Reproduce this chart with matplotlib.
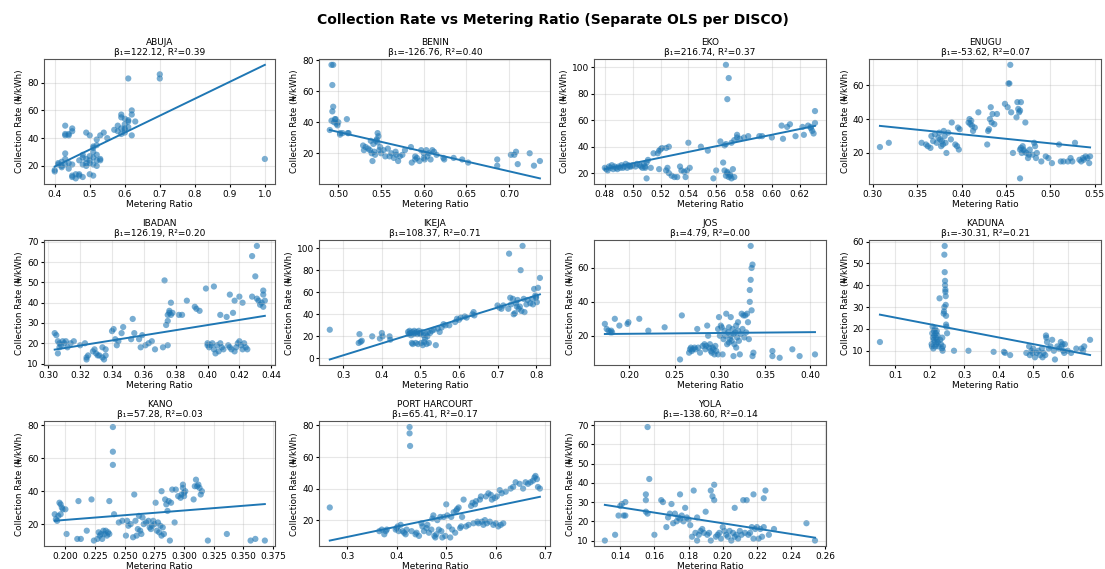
import numpy as np
import matplotlib
matplotlib.use("Agg")
import matplotlib.pyplot as plt

# (metering ratio, collection rate) per DISCO
abuja = [(0.40, 17), (0.40, 16), (0.41, 21), (0.41, 22), (0.42, 20), (0.42, 23), (0.43, 25), (0.43, 29),
         (0.43, 49), (0.43, 42), (0.44, 43), (0.43, 43), (0.44, 42), (0.45, 47), (0.45, 45), (0.44, 22),
         (0.45, 21), (0.45, 12), (0.45, 13), (0.46, 11), (0.46, 14), (0.47, 14), (0.47, 13), (0.48, 12),
         (0.48, 21), (0.47, 24), (0.48, 26), (0.48, 28), (0.49, 44), (0.50, 42), (0.49, 25), (0.49, 22),
         (0.49, 20), (0.50, 27), (0.50, 14), (0.51, 13), (0.50, 22), (0.51, 30), (0.51, 33), (0.51, 34),
         (0.52, 35), (0.52, 28), (0.52, 24), (0.52, 20), (0.52, 39), (0.53, 42), (0.53, 25), (0.53, 24),
         (0.54, 44), (0.55, 40), (0.51, 26), (0.50, 24), (0.51, 21), (0.58, 49), (0.58, 45), (0.59, 57),
         (0.59, 55), (0.59, 47), (0.60, 50), (0.60, 54), (0.60, 46), (0.60, 44), (0.61, 52), (0.61, 53),
         (0.61, 48), (0.62, 60), (0.62, 57), (0.61, 83), (0.62, 42), (0.63, 52), (0.70, 83), (0.70, 86),
         (1.00, 25), (0.59, 43), (0.60, 47), (0.57, 46), (0.44, 18), (0.43, 21), (0.42, 19)]

benin = [(0.492, 77), (0.494, 77), (0.493, 64), (0.494, 50), (0.493, 47), (0.490, 35), (0.492, 41),
         (0.495, 40), (0.496, 42), (0.497, 42), (0.498, 39), (0.500, 40), (0.499, 38), (0.502, 33),
         (0.502, 32), (0.505, 33), (0.510, 42), (0.511, 33), (0.512, 33), (0.529, 25), (0.530, 22),
         (0.532, 24), (0.535, 23), (0.537, 22), (0.538, 28), (0.539, 20), (0.540, 15), (0.541, 26),
         (0.542, 21), (0.543, 19), (0.544, 28), (0.545, 29), (0.546, 33), (0.547, 31), (0.546, 27),
         (0.548, 22), (0.549, 24), (0.550, 20), (0.553, 22), (0.555, 18), (0.558, 23), (0.560, 18),
         (0.562, 20), (0.565, 17), (0.567, 21), (0.568, 19), (0.570, 15), (0.572, 18), (0.575, 19),
         (0.578, 22), (0.585, 24), (0.586, 14), (0.590, 18), (0.592, 17), (0.595, 15), (0.597, 22),
         (0.600, 20), (0.601, 16), (0.603, 22), (0.604, 18), (0.606, 20), (0.608, 16), (0.610, 22),
         (0.612, 21), (0.615, 19), (0.623, 17), (0.624, 16), (0.635, 17), (0.645, 16), (0.652, 14),
         (0.686, 16), (0.686, 12), (0.702, 19), (0.706, 19), (0.708, 21), (0.710, 13), (0.724, 20),
         (0.729, 12), (0.736, 15), (0.600, 17), (0.590, 16)]

eko = [(0.480, 24), (0.481, 23), (0.482, 22), (0.483, 25), (0.484, 24), (0.485, 26), (0.486, 23),
       (0.487, 25), (0.488, 24), (0.489, 23), (0.490, 25), (0.491, 24), (0.492, 26), (0.493, 24),
       (0.494, 25), (0.495, 27), (0.496, 24), (0.497, 26), (0.498, 25), (0.499, 25), (0.500, 26),
       (0.502, 25), (0.503, 27), (0.505, 26), (0.506, 25), (0.507, 24), (0.508, 27), (0.509, 25),
       (0.510, 28), (0.511, 30), (0.510, 16), (0.509, 24), (0.513, 24), (0.515, 35), (0.518, 35),
       (0.519, 37), (0.520, 38), (0.521, 39), (0.519, 23), (0.524, 39), (0.526, 40), (0.524, 22),
       (0.525, 24), (0.526, 20), (0.528, 18), (0.530, 17), (0.532, 17), (0.534, 25), (0.535, 22),
       (0.537, 21), (0.538, 17), (0.540, 43), (0.541, 24), (0.539, 22), (0.549, 40), (0.554, 37),
       (0.558, 16), (0.560, 22), (0.563, 44), (0.565, 28), (0.566, 41), (0.567, 42), (0.566, 22),
       (0.567, 102), (0.569, 92), (0.568, 76), (0.567, 18), (0.568, 20), (0.569, 17), (0.570, 19),
       (0.571, 16), (0.572, 23), (0.573, 17), (0.571, 43), (0.573, 45), (0.575, 49), (0.575, 47),
       (0.577, 46), (0.580, 47), (0.583, 48), (0.591, 48), (0.593, 48), (0.600, 47), (0.607, 56),
       (0.608, 46), (0.611, 55), (0.613, 57), (0.617, 48), (0.622, 55), (0.623, 49), (0.626, 56),
       (0.628, 54), (0.629, 52), (0.630, 50), (0.631, 58), (0.631, 67), (0.628, 55), (0.568, 21),
       (0.570, 18)]

enugu = [(0.308, 23.5), (0.318, 26), (0.355, 26), (0.360, 25), (0.362, 24), (0.365, 23), (0.366, 30),
         (0.368, 27), (0.370, 31), (0.372, 26), (0.374, 29), (0.375, 32), (0.376, 28), (0.377, 24),
         (0.378, 27), (0.379, 25), (0.380, 33), (0.381, 30), (0.382, 26), (0.383, 20), (0.385, 32),
         (0.388, 28), (0.389, 38), (0.393, 25), (0.395, 24), (0.396, 35), (0.397, 22), (0.398, 34),
         (0.408, 38), (0.409, 40), (0.410, 37), (0.411, 39), (0.412, 36), (0.413, 33), (0.415, 35),
         (0.419, 44), (0.429, 25), (0.430, 33), (0.431, 34), (0.432, 40), (0.433, 47), (0.434, 38),
         (0.435, 43), (0.437, 37), (0.440, 43), (0.449, 49), (0.452, 47), (0.453, 61), (0.454, 61),
         (0.455, 72), (0.456, 44), (0.458, 20), (0.462, 41), (0.463, 50), (0.464, 46), (0.465, 44),
         (0.466, 45), (0.467, 50), (0.466, 5), (0.466, 22), (0.467, 23), (0.468, 20), (0.469, 24),
         (0.470, 22), (0.471, 21), (0.472, 38), (0.473, 20), (0.475, 17), (0.476, 19), (0.477, 22),
         (0.480, 19), (0.482, 26), (0.483, 24), (0.484, 17), (0.485, 20), (0.490, 15), (0.495, 18),
         (0.498, 17), (0.502, 14), (0.510, 25), (0.512, 15), (0.515, 15), (0.520, 15), (0.523, 17),
         (0.525, 15), (0.528, 26), (0.533, 16), (0.535, 15), (0.537, 17), (0.538, 16), (0.540, 18),
         (0.542, 17), (0.544, 14), (0.545, 18)]

ibadan = [(0.304, 25), (0.305, 24), (0.306, 21), (0.307, 20), (0.306, 15), (0.307, 18), (0.308, 19),
          (0.309, 21), (0.310, 20), (0.311, 21), (0.312, 18), (0.314, 20), (0.316, 21), (0.320, 19),
          (0.323, 20), (0.324, 13), (0.324, 12), (0.325, 14), (0.328, 16), (0.329, 17), (0.330, 15),
          (0.331, 14), (0.332, 14), (0.334, 13), (0.334, 18), (0.335, 12), (0.336, 17), (0.336, 14),
          (0.340, 26), (0.341, 27), (0.342, 22), (0.343, 19), (0.344, 21), (0.346, 25), (0.347, 28),
          (0.352, 22), (0.353, 32), (0.354, 25), (0.357, 22), (0.358, 18), (0.359, 24), (0.361, 19),
          (0.363, 20), (0.365, 21), (0.367, 17), (0.372, 18), (0.373, 51), (0.374, 29), (0.375, 31),
          (0.375, 19), (0.375, 34), (0.376, 35), (0.376, 36), (0.377, 34), (0.377, 40), (0.378, 35),
          (0.382, 34), (0.384, 34), (0.387, 41), (0.392, 38), (0.393, 37), (0.395, 36), (0.399, 47),
          (0.400, 19), (0.400, 20), (0.401, 18), (0.402, 19), (0.403, 20), (0.404, 48), (0.404, 17),
          (0.405, 15), (0.406, 19), (0.407, 16), (0.408, 34), (0.408, 20), (0.409, 18), (0.410, 17),
          (0.412, 33), (0.413, 19), (0.414, 44), (0.414, 18), (0.415, 17), (0.416, 35), (0.417, 41),
          (0.417, 16), (0.418, 18), (0.419, 20), (0.420, 43), (0.420, 21), (0.421, 19), (0.422, 40),
          (0.422, 17), (0.423, 20), (0.424, 18), (0.425, 17), (0.428, 43), (0.428, 63), (0.430, 53),
          (0.431, 68), (0.431, 42), (0.432, 41), (0.433, 39), (0.434, 40), (0.435, 46), (0.435, 44),
          (0.435, 38), (0.436, 41)]

ikeja = [(0.265, 26), (0.340, 14), (0.342, 22), (0.345, 15), (0.348, 16), (0.375, 20), (0.395, 18),
         (0.400, 23), (0.402, 20), (0.420, 20), (0.422, 17), (0.468, 24), (0.470, 22), (0.472, 25),
         (0.474, 23), (0.476, 21), (0.478, 14), (0.479, 24), (0.480, 13), (0.482, 22), (0.484, 25),
         (0.486, 23), (0.488, 14), (0.490, 24), (0.492, 22), (0.494, 13), (0.496, 25), (0.498, 23),
         (0.500, 22), (0.502, 14), (0.504, 24), (0.506, 12), (0.508, 21), (0.510, 15), (0.512, 18),
         (0.514, 22), (0.516, 13), (0.518, 20), (0.520, 24), (0.522, 14), (0.525, 23), (0.530, 25),
         (0.535, 26), (0.540, 12), (0.545, 27), (0.550, 24), (0.555, 28), (0.560, 31), (0.565, 30),
         (0.575, 30), (0.590, 33), (0.595, 36), (0.600, 35), (0.605, 37), (0.615, 38), (0.620, 37),
         (0.635, 40), (0.638, 42), (0.640, 39), (0.700, 48), (0.705, 46), (0.710, 45), (0.715, 48),
         (0.728, 45), (0.730, 95), (0.733, 55), (0.735, 49), (0.740, 54), (0.742, 40), (0.745, 41),
         (0.748, 50), (0.750, 47), (0.752, 53), (0.755, 45), (0.758, 47), (0.760, 80), (0.762, 43),
         (0.765, 102), (0.768, 54), (0.770, 42), (0.775, 49), (0.778, 53), (0.785, 50), (0.790, 54),
         (0.792, 49), (0.795, 63), (0.798, 57), (0.800, 55), (0.802, 51), (0.805, 64), (0.810, 73),
         (0.800, 56)]

jos = [(0.173, 27), (0.175, 24), (0.177, 23), (0.179, 22), (0.180, 23), (0.181, 22), (0.184, 30),
       (0.189, 26), (0.198, 27), (0.199, 28), (0.211, 30), (0.221, 23), (0.239, 25), (0.256, 6),
       (0.258, 32), (0.266, 10), (0.267, 12), (0.268, 13), (0.269, 11), (0.270, 12), (0.272, 13),
       (0.273, 12), (0.275, 24), (0.276, 13), (0.278, 10), (0.281, 14), (0.283, 15), (0.284, 12),
       (0.285, 14), (0.286, 26), (0.287, 20), (0.288, 13), (0.289, 15), (0.290, 11), (0.291, 10),
       (0.292, 13), (0.293, 12), (0.294, 9), (0.295, 14), (0.296, 11), (0.298, 9), (0.298, 24),
       (0.299, 31), (0.300, 20), (0.301, 26), (0.302, 25), (0.303, 9), (0.304, 18), (0.305, 23),
       (0.306, 20), (0.307, 33), (0.308, 15), (0.309, 22), (0.310, 25), (0.311, 18), (0.312, 31),
       (0.312, 20), (0.313, 17), (0.314, 24), (0.315, 21), (0.315, 8), (0.316, 15), (0.317, 22),
       (0.318, 26), (0.319, 19), (0.320, 28), (0.320, 23), (0.321, 17), (0.322, 9), (0.323, 21),
       (0.324, 33), (0.325, 24), (0.326, 32), (0.327, 19), (0.328, 32), (0.329, 22), (0.330, 33),
       (0.331, 28), (0.332, 18), (0.333, 40), (0.333, 47), (0.334, 53), (0.334, 73), (0.335, 35),
       (0.335, 60), (0.336, 62), (0.336, 8), (0.337, 10), (0.358, 11), (0.358, 8), (0.366, 7),
       (0.380, 12), (0.388, 8), (0.405, 9), (0.318, 13), (0.310, 16)]

kaduna = [(0.055, 14), (0.205, 13), (0.206, 12), (0.207, 18), (0.208, 21), (0.209, 16), (0.210, 11),
          (0.211, 15), (0.212, 19), (0.213, 17), (0.214, 14), (0.215, 20), (0.216, 12), (0.217, 18),
          (0.218, 16), (0.219, 13), (0.220, 19), (0.221, 15), (0.222, 17), (0.223, 14), (0.225, 12),
          (0.228, 34), (0.230, 15), (0.232, 13), (0.235, 11), (0.236, 16), (0.237, 10), (0.238, 12),
          (0.240, 27), (0.241, 28), (0.242, 30), (0.242, 54), (0.243, 58), (0.243, 46), (0.244, 42),
          (0.244, 40), (0.245, 38), (0.245, 37), (0.246, 35), (0.246, 31), (0.247, 26), (0.247, 22),
          (0.248, 21), (0.250, 18), (0.270, 10), (0.312, 10), (0.385, 9.5), (0.415, 9.5), (0.418, 9),
          (0.433, 8), (0.480, 9), (0.488, 12), (0.490, 8), (0.495, 10), (0.498, 9), (0.500, 11),
          (0.505, 7), (0.510, 9), (0.515, 10), (0.520, 8), (0.525, 11), (0.527, 7), (0.530, 9),
          (0.535, 8), (0.537, 17), (0.538, 16), (0.540, 14), (0.545, 11), (0.550, 12), (0.555, 15),
          (0.560, 10), (0.563, 6), (0.570, 12), (0.575, 11), (0.580, 14), (0.582, 12), (0.585, 13),
          (0.587, 10), (0.590, 9), (0.592, 13), (0.600, 10), (0.610, 9), (0.625, 11), (0.640, 11),
          (0.645, 10), (0.648, 12), (0.665, 15)]

kano = [(0.191, 26), (0.192, 23), (0.193, 22), (0.194, 25), (0.195, 33), (0.196, 32), (0.197, 30),
        (0.198, 29), (0.196, 26), (0.200, 29), (0.201, 14), (0.210, 11), (0.211, 34), (0.213, 11),
        (0.218, 16), (0.222, 35), (0.224, 10), (0.227, 11), (0.228, 15), (0.229, 13), (0.230, 14),
        (0.231, 11), (0.232, 16), (0.233, 14), (0.234, 16), (0.235, 13), (0.236, 15), (0.237, 14),
        (0.237, 34), (0.240, 79), (0.240, 64), (0.240, 56), (0.241, 26), (0.245, 21), (0.248, 22),
        (0.251, 13), (0.252, 22), (0.253, 19), (0.255, 20), (0.257, 12), (0.258, 38), (0.259, 22),
        (0.260, 13), (0.261, 17), (0.262, 25), (0.263, 16), (0.264, 14), (0.265, 24), (0.266, 20),
        (0.268, 21), (0.270, 22), (0.271, 18), (0.272, 17), (0.273, 19), (0.274, 22), (0.275, 20),
        (0.276, 33), (0.277, 16), (0.278, 21), (0.279, 15), (0.280, 19), (0.281, 40), (0.281, 13),
        (0.282, 18), (0.283, 14), (0.284, 35), (0.285, 32), (0.286, 28), (0.287, 34), (0.288, 10),
        (0.289, 33), (0.290, 41), (0.292, 21), (0.293, 41), (0.295, 37), (0.297, 36), (0.298, 38),
        (0.299, 44), (0.299, 42), (0.300, 39), (0.300, 37), (0.301, 40), (0.308, 35), (0.309, 43),
        (0.310, 47), (0.311, 43), (0.312, 44), (0.313, 42), (0.314, 38), (0.315, 40), (0.320, 10),
        (0.336, 14), (0.356, 10), (0.360, 11), (0.368, 10)]

port_harcourt = [(0.265, 28), (0.365, 13), (0.370, 14), (0.375, 11), (0.378, 13), (0.380, 14), (0.398, 14),
                 (0.400, 15), (0.402, 16), (0.404, 13), (0.408, 17), (0.412, 13), (0.415, 12), (0.418, 11),
                 (0.420, 14), (0.426, 79), (0.426, 75), (0.427, 67), (0.430, 13), (0.438, 11), (0.440, 12),
                 (0.445, 10), (0.450, 18), (0.452, 16), (0.455, 13), (0.460, 15), (0.462, 17), (0.465, 12),
                 (0.470, 14), (0.472, 21), (0.474, 23), (0.476, 10), (0.478, 9), (0.480, 11), (0.482, 20),
                 (0.485, 14), (0.488, 22), (0.490, 13), (0.492, 9), (0.495, 22), (0.498, 10), (0.500, 30),
                 (0.502, 23), (0.505, 16), (0.508, 9), (0.510, 22), (0.512, 14), (0.515, 25), (0.518, 12),
                 (0.520, 26), (0.522, 27), (0.525, 28), (0.528, 15), (0.530, 16), (0.532, 22), (0.535, 33),
                 (0.540, 16), (0.545, 17), (0.550, 29), (0.553, 31), (0.555, 18), (0.558, 30), (0.560, 32),
                 (0.563, 19), (0.565, 18), (0.568, 33), (0.570, 35), (0.572, 19), (0.575, 17), (0.578, 20),
                 (0.580, 35), (0.582, 18), (0.585, 37), (0.588, 19), (0.590, 36), (0.592, 33), (0.595, 17),
                 (0.598, 34), (0.600, 18), (0.602, 35), (0.605, 16), (0.608, 39), (0.610, 17), (0.612, 37),
                 (0.615, 18), (0.620, 38), (0.630, 40), (0.635, 41), (0.640, 44), (0.648, 43), (0.655, 40),
                 (0.660, 44), (0.665, 43), (0.670, 44), (0.675, 45), (0.678, 47), (0.680, 48), (0.683, 46),
                 (0.685, 41), (0.689, 40)]

yola = [(0.131, 10), (0.137, 13), (0.139, 23), (0.140, 28), (0.141, 29), (0.142, 23), (0.143, 23),
        (0.143, 30), (0.155, 34), (0.155, 31), (0.155, 25), (0.156, 24), (0.156, 69), (0.157, 42),
        (0.160, 13), (0.164, 31), (0.165, 30), (0.167, 17), (0.168, 22), (0.169, 24), (0.170, 29),
        (0.171, 19), (0.172, 24), (0.173, 20), (0.174, 22), (0.175, 34), (0.175, 21), (0.176, 23),
        (0.177, 20), (0.178, 27), (0.179, 22), (0.180, 21), (0.181, 18), (0.182, 12), (0.183, 36),
        (0.184, 14), (0.185, 10), (0.185, 22), (0.186, 13), (0.187, 15), (0.188, 16), (0.189, 14),
        (0.190, 25), (0.191, 13), (0.192, 14), (0.193, 36), (0.193, 10), (0.194, 33), (0.195, 39),
        (0.195, 31), (0.196, 12), (0.197, 13), (0.198, 14), (0.199, 11), (0.200, 17), (0.201, 15),
        (0.202, 13), (0.203, 12), (0.204, 15), (0.205, 10), (0.206, 14), (0.207, 27), (0.207, 12),
        (0.208, 13), (0.209, 11), (0.210, 15), (0.211, 13), (0.212, 31), (0.213, 14), (0.214, 31),
        (0.215, 13), (0.216, 14), (0.217, 17), (0.218, 34), (0.218, 11), (0.219, 16), (0.220, 17),
        (0.221, 11), (0.222, 16), (0.223, 12), (0.224, 17), (0.224, 32), (0.225, 36), (0.227, 13),
        (0.230, 16), (0.249, 19), (0.254, 10)]

discos = ["ABUJA", "BENIN", "EKO", "ENUGU", "IBADAN", "IKEJA", "JOS", "KADUNA",
          "KANO", "PORT HARCOURT", "YOLA"]
points = [abuja, benin, eko, enugu, ibadan, ikeja, jos, kaduna, kano, port_harcourt, yola]
slopes = [122.12, -126.76, 216.74, -53.62, 126.19, 108.37, 4.79, -30.31, 57.28, 65.41, -138.60]
intercepts = [-29.3, 97.1, -81.0, 52.5, -21.5, -29.7, 20.2, 28.2, 11.1, -10.3, 46.7]
r2 = [0.39, 0.40, 0.37, 0.07, 0.20, 0.71, 0.00, 0.21, 0.03, 0.17, 0.14]

fig, axes = plt.subplots(3, 4, figsize=(11.05, 5.69), dpi=100)
fig.subplots_adjust(left=0.040, right=0.996, top=0.896, bottom=0.040, wspace=0.19, hspace=0.45)
fig.suptitle("Collection Rate vs Metering Ratio (Separate OLS per DISCO)",
             fontsize=10, fontweight="bold", y=0.977)

for i, ax in enumerate(axes.flat):
    if i >= len(discos):
        ax.remove()
        continue
    pts = np.array(points[i])
    x, y = pts[:, 0], pts[:, 1]
    ax.scatter(x, y, s=20, alpha=0.6, color="#1f77b4", edgecolors="none")
    xs = np.linspace(x.min(), x.max(), 50)
    ax.plot(xs, intercepts[i] + slopes[i] * xs, color="#1f77b4", linewidth=1.4)
    ax.set_title(f"{discos[i]}\nβ₁={slopes[i]:.2f}, R²={r2[i]:.2f}", fontsize=6.5, pad=3,
                 linespacing=1.1)
    ax.set_xlabel("Metering Ratio", fontsize=6.5, labelpad=1)
    ax.set_ylabel("Collection Rate (₦/kWh)", fontsize=6.3, labelpad=2)
    ax.tick_params(labelsize=6.5, length=2.5, pad=1.5)
    ax.locator_params(axis="x", nbins=9)
    ax.locator_params(axis="y", nbins=7)
    ax.grid(True, alpha=0.3)
    for sp in ax.spines.values():
        sp.set_color("#555555")

fig.savefig("out.png", dpi=100)
